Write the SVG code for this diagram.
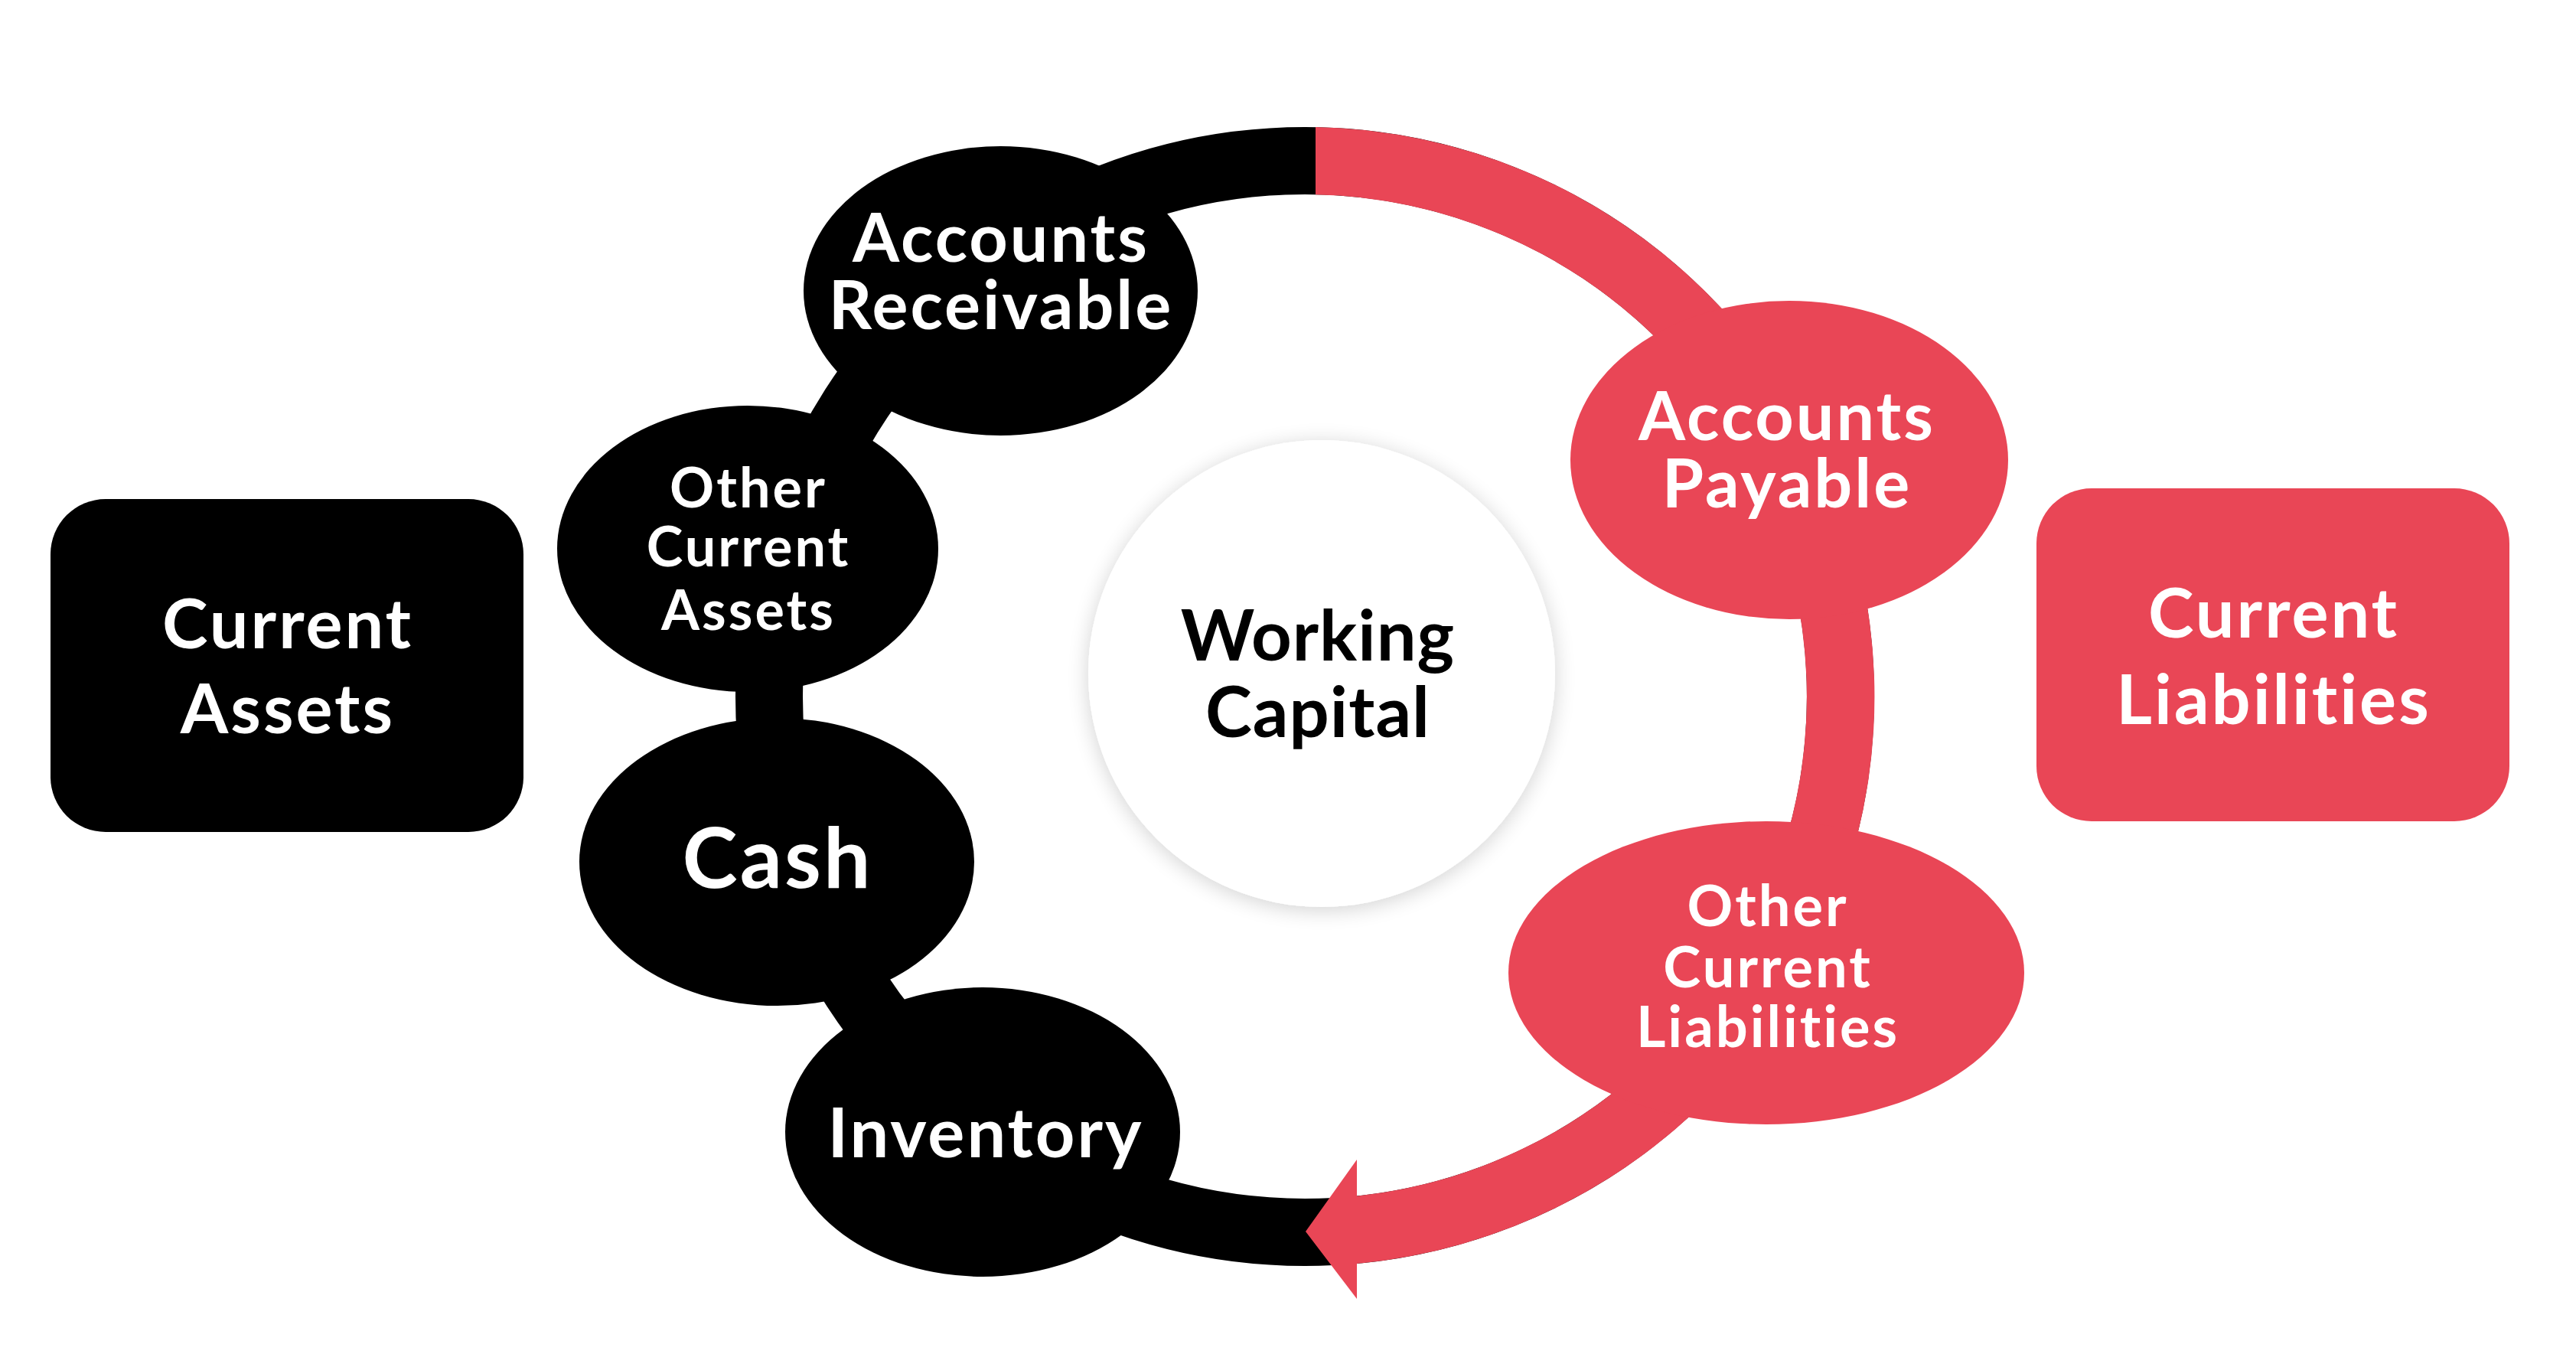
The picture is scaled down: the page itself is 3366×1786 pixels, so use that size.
<svg xmlns="http://www.w3.org/2000/svg" width="3366" height="1786" viewBox="0 0 3366 1786">
  <style>
    .t { font-family: Lato, "Open Sans", "Liberation Sans", sans-serif; font-weight: bold; text-anchor: middle; font-variant-ligatures: none; letter-spacing: 3px; }
    .w { fill: #ffffff; }
    .k { fill: #000000; }
    .red { fill: #E94656; }
    .blk { fill: #000000; }
  </style>
  <defs>
    <filter id="shadow" x="-30%" y="-30%" width="160%" height="160%">
      <feGaussianBlur in="SourceAlpha" stdDeviation="14"/>
      <feOffset dx="0" dy="4" result="b"/>
      <feComponentTransfer><feFuncA type="linear" slope="0.18"/></feComponentTransfer>
      <feMerge><feMergeNode/><feMergeNode in="SourceGraphic"/></feMerge>
    </filter>
  </defs>
  <rect width="3366" height="1786" fill="#ffffff"/>

  <g id="connectors">
    <circle cx="1705" cy="910" r="700" fill="none" stroke="#000000" stroke-width="88"/>
    <path class="red" d="M1719,166.1 A744,744 0 0 1 1773,1650.9 L1773,1697 L1706,1609 L1773,1515 L1773,1562.5 A656,656 0 0 0 1719,254.2 Z"/>
  </g>

  <g id="working-capital">
    <circle cx="1727" cy="880" r="305" fill="#ffffff" filter="url(#shadow)"/>
    <text class="t k" x="1722" y="863" font-size="92" style="letter-spacing:1px">Working</text>
    <text class="t k" x="1722" y="963" font-size="92" style="letter-spacing:1px">Capital</text>
  </g>

  <g id="current-assets">
    <rect class="blk" x="66" y="652" width="618" height="435" rx="72" ry="72"/>
    <text class="t w" x="376" y="847" font-size="90">Current</text>
    <text class="t w" x="376" y="958" font-size="90">Assets</text>
  </g>

  <g id="current-liabilities">
    <rect class="red" x="2661" y="638" width="618" height="435" rx="72" ry="72"/>
    <text class="t w" x="2971" y="833" font-size="90">Current</text>
    <text class="t w" x="2971" y="946" font-size="90">Liabilities</text>
  </g>

  <g id="accounts-receivable">
    <ellipse class="blk" cx="1307.5" cy="380" rx="257.5" ry="189"/>
    <text class="t w" x="1308" y="342" font-size="88">Accounts</text>
    <text class="t w" x="1308" y="430" font-size="88">Receivable</text>
  </g>

  <g id="other-current-assets">
    <ellipse class="blk" cx="977" cy="717" rx="249" ry="187"/>
    <text class="t w" x="978" y="663" font-size="72">Other</text>
    <text class="t w" x="978" y="740" font-size="72">Current</text>
    <text class="t w" x="978" y="823" font-size="72">Assets</text>
  </g>

  <g id="cash">
    <ellipse class="blk" cx="1015" cy="1126" rx="258" ry="188"/>
    <text class="t w" x="1016" y="1160" font-size="109">Cash</text>
  </g>

  <g id="inventory">
    <ellipse class="blk" cx="1284" cy="1479" rx="258" ry="189"/>
    <text class="t w" x="1288" y="1512" font-size="90">Inventory</text>
  </g>

  <g id="accounts-payable">
    <ellipse class="red" cx="2338" cy="601" rx="286" ry="208"/>
    <text class="t w" x="2335" y="575" font-size="88">Accounts</text>
    <text class="t w" x="2335" y="663" font-size="88">Payable</text>
  </g>

  <g id="other-current-liabilities">
    <ellipse class="red" cx="2308" cy="1271" rx="337" ry="198"/>
    <text class="t w" x="2310" y="1210" font-size="74">Other</text>
    <text class="t w" x="2310" y="1290" font-size="74">Current</text>
    <text class="t w" x="2310" y="1368" font-size="74">Liabilities</text>
  </g>
</svg>
